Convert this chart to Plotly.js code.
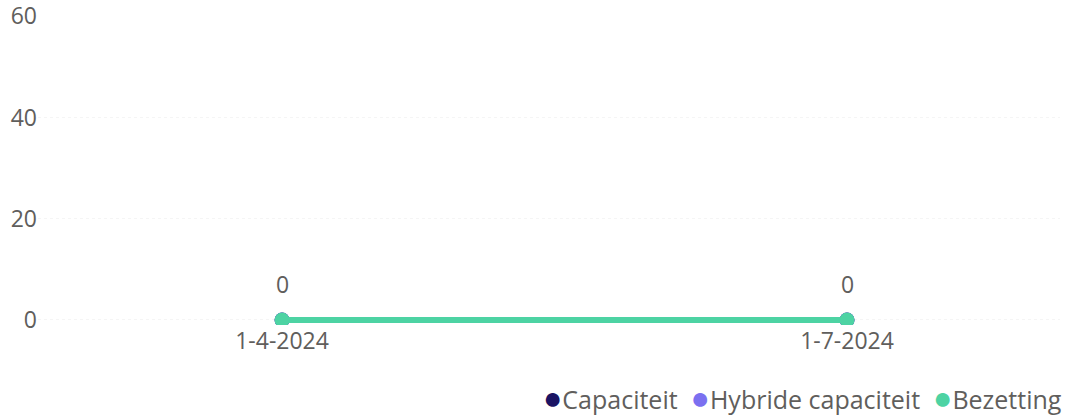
<!DOCTYPE html>
<html><head><meta charset="utf-8">
<script src="https://cdn.plot.ly/plotly-3.0.1.min.js"></script>
<style>html,body{margin:0;padding:0;background:#fff;}#chart{width:1066px;height:417px;}</style>
</head><body><div id="chart"></div>
<script>
const categories = ["1-4-2024", "1-7-2024"];
const capaciteit = [0, 0];
const hybrideCapaciteit = [0, 0];
const bezetting = [0, 0];
const seriesNames = ["Capaciteit", "Hybride capaciteit", "Bezetting"];
const colors = ["#1b1464", "#7b70f0", "#4dd3a3"];
const yTicks = [0, 20, 40, 60];

const font = "'Segoe UI', 'Open Sans', 'Noto Sans', sans-serif";
const textColor = '#605e5c';
const traces = [];
[capaciteit, hybrideCapaciteit, bezetting].forEach((vals, i) => {
  traces.push({
    x: categories, y: vals, type: 'scatter', mode: 'lines+markers', name: seriesNames[i],
    line: {color: colors[i], width: 6}, marker: {color: colors[i], size: 15},
    showlegend: false, hoverinfo: 'skip'
  });
});
const annotations = categories.map((c, i) => ({
  x: c, y: bezetting[i], text: String(bezetting[i]), showarrow: false,
  yshift: 36, font: {family: font, size: 23, color: textColor}
}));
// legend row built from the series names and colours
const legendText = seriesNames.map((n, i) =>
  '<span style="color:' + colors[i] + ';font-size:32px">●</span>' + n).join('  ');
annotations.push({
  xref: 'paper', yref: 'paper', x: 1.004, y: -0.23, xanchor: 'right', yanchor: 'middle',
  text: legendText, showarrow: false, font: {family: font, size: 25, color: textColor}
});
const layout = {
  width: 1066, height: 417,
  margin: {l: 38, r: 6, t: 16, b: 92},
  paper_bgcolor: '#fff', plot_bgcolor: '#fff',
  font: {family: font, size: 23, color: textColor},
  xaxis: {type: 'category', range: [-0.432, 1.377], showgrid: false, zeroline: false, automargin: false,
    showline: false, ticks: '', ticklabelstandoff: 0, tickfont: {size: 23, color: textColor}, fixedrange: true},
  yaxis: {range: [-1, 60.05], tickvals: yTicks, showgrid: true, gridcolor: '#f5f5f5', griddash: 'dot', automargin: false,
    ticklabeloverflow: 'allow', zeroline: false, showline: false, ticks: '', tickfont: {size: 23, color: textColor}},
  showlegend: false,
  annotations: annotations
};
Plotly.newPlot('chart', traces, layout, {displayModeBar: false, staticPlot: true});
</script></body></html>
